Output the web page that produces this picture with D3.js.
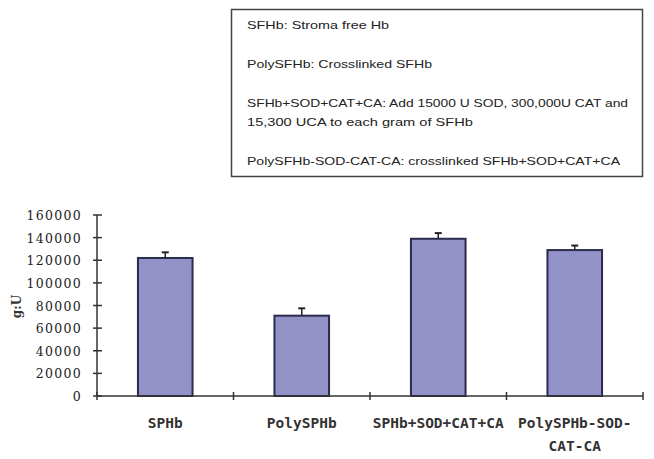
<!DOCTYPE html>
<html>
<head>
<meta charset="utf-8">
<script src="https://cdn.jsdelivr.net/npm/d3@7"></script>
<style>
  body { margin: 0; background: #fff; }
  svg { display: block; }
</style>
</head>
<body>
<script>
// chart values
const categories = ["SPHb", "PolySPHb", "SPHb+SOD+CAT+CA", "PolySPHb-SOD-CAT-CA"];
const labelLines = [["SPHb"], ["PolySPHb"], ["SPHb+SOD+CAT+CA"], ["PolySPHb-SOD-", "CAT-CA"]];
const values = [122000, 71000, 139000, 129000];
const errors = [5000, 6500, 5000, 4000];
const yTicks = [0, 20000, 40000, 60000, 80000, 100000, 120000, 140000, 160000];
const yLabel = "g:U";
const legendLines = [
  "SFHb: Stroma free  Hb",
  "PolySFHb: Crosslinked SFHb",
  "SFHb+SOD+CAT+CA: Add 15000 U SOD, 300,000U CAT and",
  "15,300 UCA  to each gram of SFHb",
  "PolySFHb-SOD-CAT-CA: crosslinked  SFHb+SOD+CAT+CA"
];

var draw = function() {
  let width = 654, height = 459;
  let left = 97, right = 643, top = 215, bottom = 396;

  let svg = d3.select("body")
              .append("svg")
              .attr("width", width)
              .attr("height", height);

  let x = d3.scaleBand()
            .domain(categories)
            .range([left, right])
            .paddingInner(0.6)
            .paddingOuter(0.3);

  let y = d3.scaleLinear()
            .domain([0, 160000])
            .range([bottom, top]);

  // legend box
  {
    let box = svg.append("g");
    box.append("rect")
       .attr("x", 231.5)
       .attr("y", 9.5)
       .attr("width", 411)
       .attr("height", 167)
       .attr("fill", "#fff")
       .attr("stroke", "#444")
       .attr("stroke-width", 1.5);

    let ys = [29, 68, 107, 126, 165];
    let lens = [142, 185, 381, 226, 373];
    legendLines.forEach(function(t, i) {
      box.append("text")
         .attr("x", 247)
         .attr("y", ys[i])
         .attr("font-family", "Liberation Sans, Arial, sans-serif")
         .attr("font-size", 11.5)
         .attr("fill", "#222")
         .attr("textLength", lens[i])
         .attr("lengthAdjust", "spacingAndGlyphs")
         .text(t);
    });
  }

  // bars
  svg.selectAll("rect.bar")
     .data(values)
     .enter()
     .append("rect")
     .attr("class", "bar")
     .attr("x", (d, i) => x(categories[i]))
     .attr("y", d => y(d))
     .attr("width", x.bandwidth())
     .attr("height", d => y(0) - y(d))
     .attr("fill", "#9292c8")
     .attr("stroke", "#2b2b4e")
     .attr("stroke-width", 2);

  // error bars
  values.forEach(function(v, i) {
    let cx = x(categories[i]) + x.bandwidth() / 2;
    svg.append("line")
       .attr("x1", cx).attr("x2", cx)
       .attr("y1", y(v)).attr("y2", y(v + errors[i]))
       .attr("stroke", "#222").attr("stroke-width", 1.5);
    svg.append("line")
       .attr("x1", cx - 3.5).attr("x2", cx + 3.5)
       .attr("y1", y(v + errors[i])).attr("y2", y(v + errors[i]))
       .attr("stroke", "#222").attr("stroke-width", 2);
  });

  // y axis
  svg.append("line")
     .attr("x1", left).attr("x2", left)
     .attr("y1", y(160000)).attr("y2", y(0))
     .attr("stroke", "#333").attr("stroke-width", 1.5);

  yTicks.forEach(function(t) {
    svg.append("line")
       .attr("x1", left - 4).attr("x2", left + 5)
       .attr("y1", y(t)).attr("y2", y(t))
       .attr("stroke", "#333").attr("stroke-width", 1.5);
    svg.append("text")
       .attr("x", 82)
       .attr("y", y(t) + 5)
       .attr("text-anchor", "end")
       .attr("font-family", "DejaVu Serif, serif")
       .attr("font-size", 12.5)
       .attr("letter-spacing", 1.3)
       .attr("fill", "#222")
       .text(t);
  });

  svg.append("text")
     .attr("transform", "translate(21," + (y(80000) + 1) + ") rotate(-90)")
     .attr("text-anchor", "middle")
     .attr("font-family", "DejaVu Serif, serif")
     .attr("font-weight", "bold")
     .attr("font-size", 12)
     .attr("fill", "#333")
     .text(yLabel);

  // x axis
  svg.append("line")
     .attr("x1", left).attr("x2", right)
     .attr("y1", y(0)).attr("y2", y(0))
     .attr("stroke", "#333").attr("stroke-width", 1.5);

  for (var i = 0; i <= categories.length; i++) {
    let tx = left + i * (right - left) / categories.length;
    svg.append("line")
       .attr("x1", tx).attr("x2", tx)
       .attr("y1", y(0) - 4).attr("y2", y(0) + 4)
       .attr("stroke", "#333").attr("stroke-width", 1.5);
  }

  labelLines.forEach(function(lines, i) {
    let cx = x(categories[i]) + x.bandwidth() / 2;
    lines.forEach(function(l, j) {
      svg.append("text")
         .attr("x", cx)
         .attr("y", 428 + j * 23)
         .attr("text-anchor", "middle")
         .attr("font-family", "DejaVu Sans Mono, monospace")
         .attr("font-weight", "bold")
         .attr("font-size", 14.5)
         .attr("fill", "#333")
         .text(l);
    });
  });
}

draw();
</script>
</body>
</html>
